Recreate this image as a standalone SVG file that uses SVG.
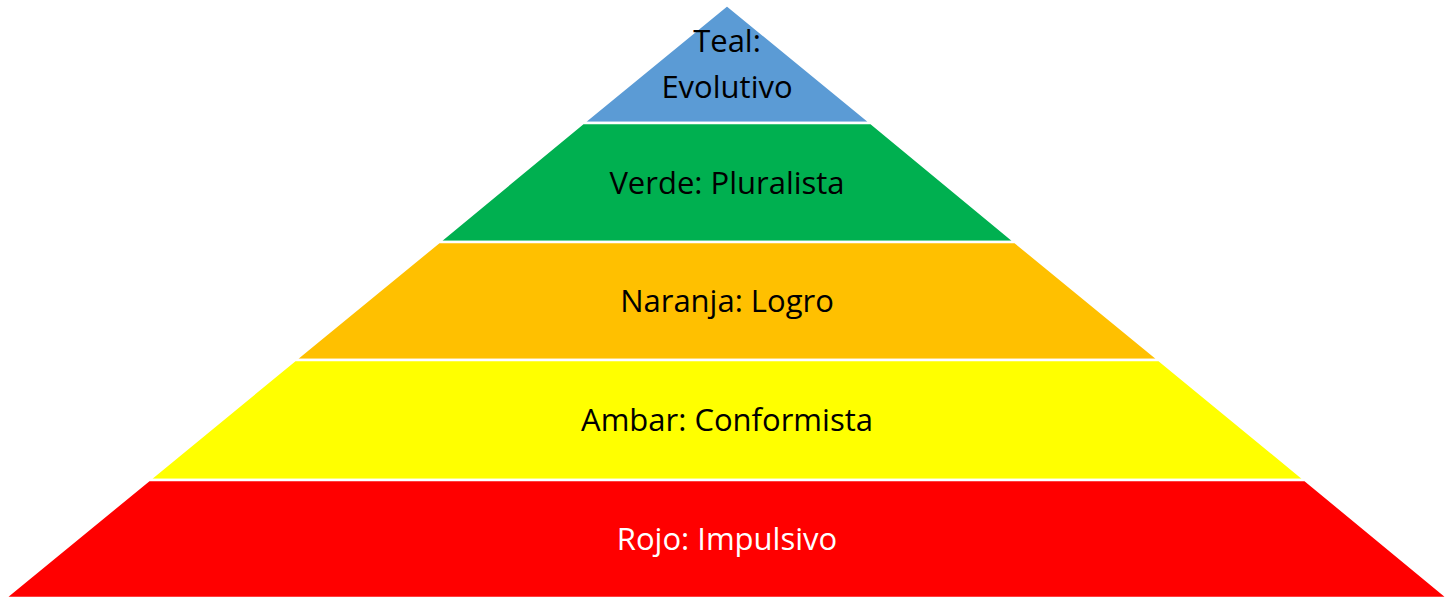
<svg xmlns="http://www.w3.org/2000/svg" width="1453" height="600" viewBox="0 0 1453 600">
<style>
.l{stroke:#fff;stroke-width:2.5}
.t{font-family:"Open Sans","Liberation Sans",sans-serif;font-size:31px;text-anchor:middle;fill:#000}
</style>
<rect width="1453" height="600" fill="#fff"/>
<g id="teal"><polygon class="l" fill="#5b9bd5" points="727,5 583,123 871,123"/><text class="t" x="727" y="52">Teal:</text><text class="t" x="727" y="98">Evolutivo</text></g>
<g id="verde"><polygon class="l" fill="#00b050" points="583,123 871,123 1015,242 439,242"/><text class="t" x="727" y="194">Verde: Pluralista</text></g>
<g id="naranja"><polygon class="l" fill="#ffc000" points="439,242 1015,242 1159,360 295,360"/><text class="t" x="727" y="312">Naranja: Logro</text></g>
<g id="ambar"><polygon class="l" fill="#ffff00" points="295,360 1159,360 1305,480 149,480"/><text class="t" x="727" y="431">Ambar: Conformista</text></g>
<g id="rojo"><polygon class="l" fill="#ff0000" points="149,480 1305,480 1448,598 5,598"/><text class="t" x="727" y="550" fill="#fff" style="fill:#fff">Rojo: Impulsivo</text></g>
<g id="connectors"/>
</svg>
